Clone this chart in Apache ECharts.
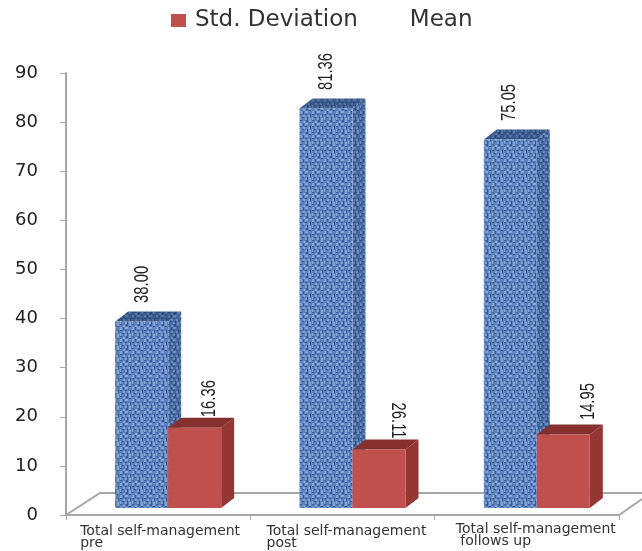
<!DOCTYPE html>
<html>
<head>
<meta charset="utf-8">
<style>html,body{margin:0;padding:0;background:#fff}#chart{width:642px;height:551px}</style>
<script src="https://cdn.jsdelivr.net/npm/echarts@6/dist/echarts.min.js"></script>
</head>
<body>
<div id="chart"></div>
<script>
const categories = ['Total self-management\npre', 'Total self-management\npost', 'Total self-management\n follows up'];
const meanValues = [38.00, 81.36, 75.05];
const sdValues = [16.36, 11.9, 14.95];
const meanLabels = ['38.00', '81.36', '75.05'];
const sdLabels = ['16.36', '26.11', '14.95'];

// depth of the fake 3d boxes
const DX = 13, DY = 10, LIFT = 7, BAR_W = 53;

// label nudges relative to the box, these labels sit unevenly in the original
const meanShift = [[1, -37], [0, -37], [-1, -37]];
const sdShift = [[15, -29], [19, -29], [25, -33]];
const sdTurn = [1, -1, 1]; // the middle one is printed the other way round
const catShift = [-78, -76, -71];

// woven tile for the blue bars
function makeTile(base, dark, light) {
  const c = document.createElement('canvas');
  c.width = 12; c.height = 12;
  const g = c.getContext('2d');
  g.fillStyle = base;
  g.fillRect(0, 0, 12, 12);
  g.filter = 'blur(0.6px)';
  g.fillStyle = dark;
  [[0,0,2,1],[6,0,2,2],[3,3,1,3],[9,2,2,1],[0,6,2,1],[5,6,2,1],[10,6,1,3],[2,9,2,1],[7,9,1,3]].forEach(r => g.fillRect(...r));
  g.fillStyle = light;
  [[3,1,2,2],[9,0,2,2],[0,3,2,3],[5,3,3,2],[3,7,2,2],[8,7,2,2],[0,9,1,3],[5,10,2,2],[9,10,2,2]].forEach(r => g.fillRect(...r));
  return c;
}
const frontTile = makeTile('#5c81bd', '#335a99', '#84a4d6');
const sideTile = makeTile('#47699f', '#2d4f86', '#6a8cc0');
const topTile = makeTile('#3a5b8f', '#284774', '#54749f');

function box(colors, side) {
  return function (params, api) {
    const base = api.coord([api.value(0), 0]);
    const top = api.coord([api.value(0), api.value(1)]);
    const x = base[0] - 43 + side * BAR_W;
    const yb = base[1] - LIFT, yt = top[1] - LIFT, w = BAR_W;
    return {
      type: 'group',
      children: [
        { type: 'polygon', shape: { points: [[x + w, yb], [x + w + DX, yb - DY], [x + w + DX, yt - DY], [x + w, yt]] }, style: { fill: colors.side } },
        { type: 'polygon', shape: { points: [[x, yt], [x + DX, yt - DY], [x + w + DX, yt - DY], [x + w, yt]] }, style: { fill: colors.top } },
        { type: 'rect', shape: { x: x, y: yt, width: w, height: yb - yt }, style: { fill: colors.front } }
      ]
    };
  };
}

function valueLabels(values, texts, side, shift, turn) {
  return {
    type: 'custom',
    silent: true,
    z: 5,
    renderItem: function (params, api) {
      const i = params.dataIndex;
      const base = api.coord([api.value(0), 0]);
      const top = api.coord([api.value(0), api.value(1)]);
      return {
        type: 'text',
        x: base[0] - 43 + side * BAR_W + BAR_W / 2 + shift[i][0],
        y: top[1] - LIFT + shift[i][1],
        rotation: (turn ? turn[i] : 1) * Math.PI / 2,
        scaleX: 0.74,
        style: {
          text: texts[i], fill: '#222',
          font: '20px "Liberation Sans"', align: 'center', verticalAlign: 'middle'
        }
      };
    },
    data: values.map((v, i) => [i, v])
  };
}

const chart = echarts.init(document.getElementById('chart'));
chart.setOption({
  animation: false,
  legend: {
    data: ['Std. Deviation', { name: 'Mean', itemStyle: { opacity: 0 } }],
    top: 4, left: 166, icon: 'rect', itemWidth: 15, itemHeight: 13, itemGap: 28,
    textStyle: { fontFamily: 'DejaVu Sans', fontSize: 23, color: '#333', padding: [0, 0, 0, 4] }
  },
  grid: { left: 66, right: 23, top: 73, bottom: 36, outerBoundsMode: 'none' },
  xAxis: {
    type: 'category',
    data: categories.map((c, i) => ({
      value: c,
      textStyle: { align: 'left', padding: [i === 2 ? 0 : 2, 0, 0, catShift[i]] }
    })),
    axisLine: { lineStyle: { color: '#a6a6a6', width: 2 } },
    axisTick: { show: true, length: 5, lineStyle: { color: '#a6a6a6' } },
    axisLabel: { fontFamily: 'DejaVu Sans', fontSize: 14, lineHeight: 12, color: '#333', margin: 8, align: 'left', interval: 0, hideOverlap: false }
  },
  yAxis: {
    type: 'value', min: 0, max: 90, interval: 10,
    axisLine: { show: true, lineStyle: { color: '#a6a6a6', width: 2 } },
    axisTick: { show: true, length: 6, lineStyle: { color: '#a6a6a6' } },
    axisLabel: { fontFamily: 'DejaVu Sans', fontSize: 18, color: '#222', margin: 28 },
    splitLine: { show: false }
  },
  series: [
    {
      name: 'Std. Deviation', type: 'custom', z: 3,
      itemStyle: { color: '#c0504d' },
      renderItem: box({ front: '#c0504d', side: '#943634', top: '#85302e' }, 1),
      data: sdValues.map((v, i) => [i, v])
    },
    {
      name: 'Mean', type: 'custom', z: 2,
      itemStyle: { color: '#5f86c4' },
      renderItem: box({
        front: { image: frontTile, repeat: 'repeat' },
        side: { image: sideTile, repeat: 'repeat' },
        top: { image: topTile, repeat: 'repeat' }
      }, 0),
      data: meanValues.map((v, i) => [i, v])
    },
    valueLabels(meanValues, meanLabels, 0, meanShift),
    valueLabels(sdValues, sdLabels, 1, sdShift, sdTurn)
  ],
  graphic: [
    // floor of the 3d plot
    { type: 'polyline', z: 1, shape: { points: [[66, 515], [100, 493], [642, 493]] }, style: { stroke: '#a6a6a6', lineWidth: 2, fill: null } },
    { type: 'polyline', z: 1, shape: { points: [[619, 515], [642, 499]] }, style: { stroke: '#a6a6a6', lineWidth: 2, fill: null } }
  ]
});
</script>
</body>
</html>
